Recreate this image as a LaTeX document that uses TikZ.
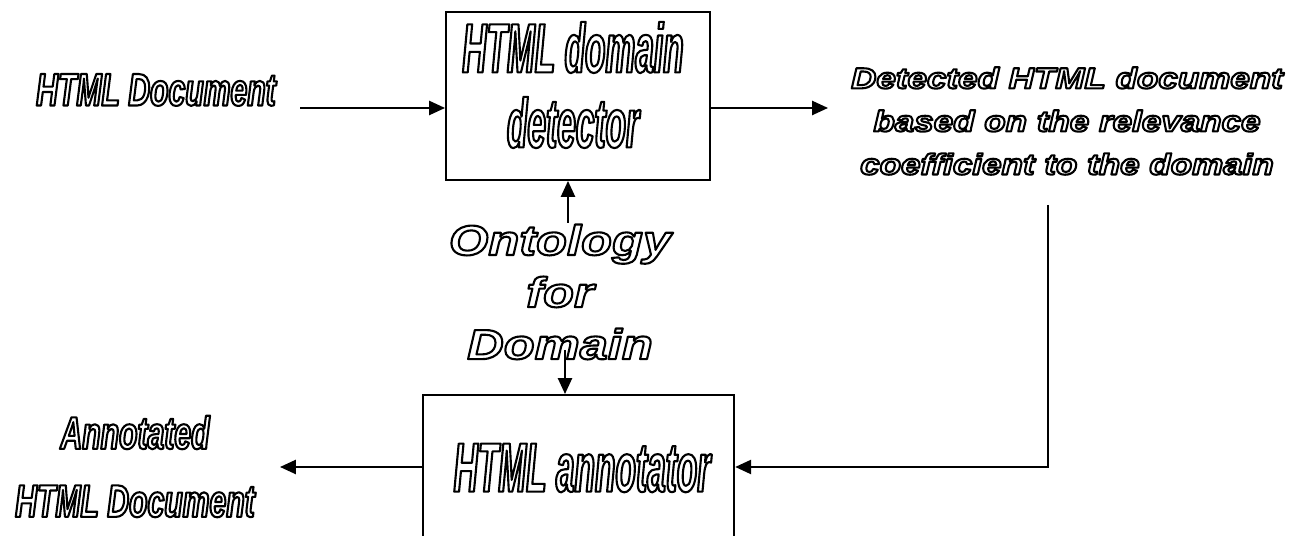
\documentclass[tikz,border=0pt]{standalone}
\usepackage{fontspec}
\usepackage{tikz}
\usetikzlibrary{arrows.meta,positioning,calc}
\newfontfamily\narrowfont[FakeStretch=0.48]{Liberation Sans}
\newfontfamily\semifont[FakeStretch=0.66]{Liberation Sans}
\newfontfamily\widefont[FakeStretch=1.2]{Liberation Sans}
% hollow letters: white fill, black stroke
\newcommand\hollow[1]{\textcolor{white}{\special{pdf:code 2 Tr 0 G 1.2 w 1 j}#1\special{pdf:code 0 Tr 0 j}}}
\tikzset{
 procbox/.style={draw, line width=1.1pt, inner sep=0pt},
 flow/.style={line width=1.1pt, -{Triangle[length=9pt,width=8pt]}},
 boxtext/.style={align=center, inner sep=0pt, font=\narrowfont\bfseries\itshape\fontsize{39.7}{42.7}\selectfont},
 sidetext/.style={align=center, inner sep=0pt, font=\semifont\bfseries\itshape\fontsize{26}{38.7}\selectfont},
 widetext/.style={align=center, inner sep=0pt, font=\widefont\bfseries\itshape\fontsize{16.6}{24.5}\selectfont},
 ontotext/.style={align=center, inner sep=0pt, font=\widefont\bfseries\itshape\fontsize{24}{29.6}\selectfont}
}
\begin{document}
\begin{tikzpicture}
\useasboundingbox (0,0) rectangle (26.14,10.72);
\clip (0,0) rectangle (26.14,10.72);
% boxes
\node[procbox, minimum width=5.28cm, minimum height=3.36cm] (detector) at (11.56,8.80) {};
\node[boxtext] (detectortxt) at (11.46,9.02) {\hollow{HTML domain}\\\hollow{detector}};
\node[procbox, minimum width=6.22cm, minimum height=3.1cm, anchor=north] (annot) at (11.575,2.84) {};
\node[boxtext] (annottxt) at (11.64,1.36) {\hollow{HTML annotator}};
% texts
\node[sidetext] (htmldoc) at (3.12,8.92) {\hollow{HTML Document}};
\node[widetext] (detected) at (21.34,8.3) {\hollow{Detected HTML document}\\\hollow{based on the relevance}\\\hollow{coefficient to the domain}};
\node[ontotext] (onto) at (11.2,4.88) {\hollow{Ontology}\\\hollow{for}\\\hollow{Domain}};
\node[sidetext] (annotdoc) at (2.7,1.39) {\hollow{Annotated}\\\hollow{HTML Document}};
% connectors
\coordinate (inend) at (6.0,8.56);
\coordinate (outend) at (16.56,8.56);
\coordinate (vstart) at (20.96,6.62);
\coordinate (turn) at (20.96,1.38);
\coordinate (upstart) at (11.36,6.26);
\coordinate (dnstart) at (11.3,3.72);
\coordinate (outleft) at (5.6,1.38);
\draw[flow] (inend) -- (inend -| detector.west);
\draw[flow] (detector.east |- outend) -- (outend);
\draw[flow] (vstart) -- (turn) -- (turn -| annot.east);
\draw[flow] (upstart) -- (upstart |- detector.south);
\draw[flow] (dnstart) -- (dnstart |- annot.north);
\draw[flow] (annot.west |- outleft) -- (outleft);
\end{tikzpicture}
\end{document}
